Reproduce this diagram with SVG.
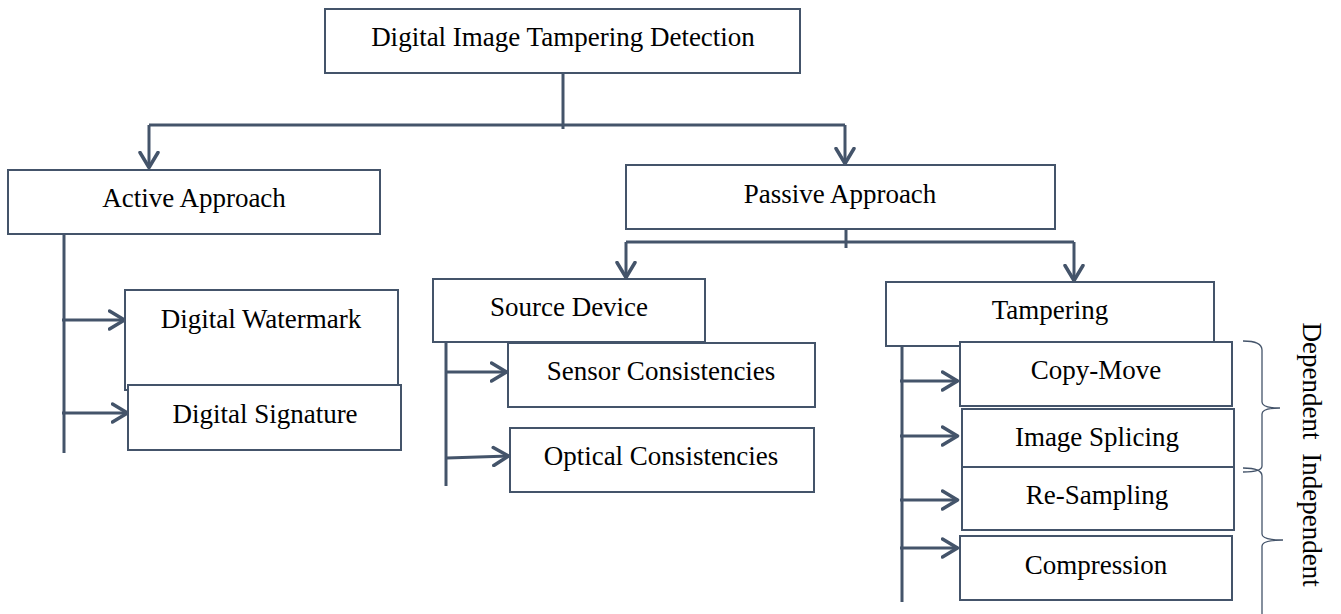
<svg xmlns="http://www.w3.org/2000/svg" width="1341" height="614" viewBox="0 0 1341 614">
<style>
.box{fill:#fff;stroke:#44546A;stroke-width:2}
.t{font-family:"Liberation Serif","Times New Roman",serif;font-size:27px;fill:#000;text-anchor:middle}
.c{fill:none;stroke:#44546A;stroke-width:3}
.b{fill:none;stroke:#44546A;stroke-width:1.3}
</style>
<defs>
<marker id="ah" viewBox="0 0 19 22" refX="17.5" refY="11" markerWidth="19" markerHeight="22" markerUnits="userSpaceOnUse" orient="auto">
<path d="M2,2 L17,11 L2,20" fill="none" stroke="#44546A" stroke-width="3.5" stroke-linecap="round" stroke-linejoin="round"/>
</marker>
</defs>
<rect width="1341" height="614" fill="#fff"/>
<g id="connectors">
<path class="c" d="M563,73 V129"/>
<path class="c" d="M149,125 H845"/>
<path class="c" d="M149,125 V168" marker-end="url(#ah)"/>
<path class="c" d="M845,125 V164" marker-end="url(#ah)"/>
<path class="c" d="M64,223 V453"/>
<path class="c" d="M62,320 H125" marker-end="url(#ah)"/>
<path class="c" d="M62,413 H128" marker-end="url(#ah)" stroke-width="2.5"/>
<path class="c" d="M846,220 V248"/>
<path class="c" d="M626,242 H1074"/>
<path class="c" d="M626,242 V278" marker-end="url(#ah)"/>
<path class="c" d="M1074,242 V281" marker-end="url(#ah)"/>
<path class="c" d="M446,332 V486"/>
<path class="c" d="M447,372 H507" marker-end="url(#ah)"/>
<path class="c" d="M447,458 L509,456" marker-end="url(#ah)"/>
<path class="c" d="M902,340 V602"/>
<path class="c" d="M900,381 H958" marker-end="url(#ah)"/>
<path class="c" d="M900,436 H958" marker-end="url(#ah)"/>
<path class="c" d="M900,500 H958" marker-end="url(#ah)"/>
<path class="c" d="M900,548 H958" marker-end="url(#ah)"/>
</g>
<g id="n-root"><rect class="box" x="325" y="9" width="475" height="64"/><text class="t" x="563" y="46">Digital Image Tampering Detection</text></g>
<g id="n-active"><rect class="box" x="8" y="170" width="372" height="64"/><text class="t" x="194" y="207">Active Approach</text></g>
<g id="n-passive"><rect class="box" x="626" y="165" width="429" height="64"/><text class="t" x="840" y="203">Passive Approach</text></g>
<g id="n-watermark"><rect class="box" x="125" y="290" width="273" height="100"/><text class="t" x="261" y="328">Digital Watermark</text></g>
<g id="n-signature"><rect class="box" x="128" y="385" width="273" height="65"/><text class="t" x="265" y="423">Digital Signature</text></g>
<g id="n-source"><rect class="box" x="433" y="279" width="272" height="63"/><text class="t" x="569" y="316">Source Device</text></g>
<g id="n-sensor"><rect class="box" x="508" y="343" width="307" height="64"/><text class="t" x="661" y="380">Sensor Consistencies</text></g>
<g id="n-optical"><rect class="box" x="510" y="428" width="304" height="64"/><text class="t" x="661" y="465">Optical Consistencies</text></g>
<g id="n-tampering"><rect class="box" x="886" y="282" width="328" height="64"/><text class="t" x="1050" y="319">Tampering</text></g>
<g id="n-copymove"><rect class="box" x="960" y="342" width="272" height="64"/><text class="t" x="1096" y="379">Copy-Move</text></g>
<g id="n-splicing"><rect class="box" x="962" y="409" width="272" height="58"/><text class="t" x="1097" y="446">Image Splicing</text></g>
<g id="n-resampling"><rect class="box" x="962" y="467" width="272" height="63"/><text class="t" x="1097" y="504">Re-Sampling</text></g>
<g id="n-compression"><rect class="box" x="960" y="536" width="272" height="64"/><text class="t" x="1096" y="574">Compression</text></g>
<g id="braces">
<path class="b" d="M1243,341 Q1262,341 1262,350 V402 Q1262,408 1280,408 Q1262,408 1262,414 V466 Q1262,472 1243,472"/>
<path class="b" d="M1243,468 Q1262,468 1262,476 V534 Q1262,540 1283,540 Q1262,540 1262,546 V614"/>
<text class="t" transform="translate(1303,381) rotate(90)">Dependent</text>
<text class="t" transform="translate(1303,520) rotate(90)">Independent</text>
</g>
</svg>
